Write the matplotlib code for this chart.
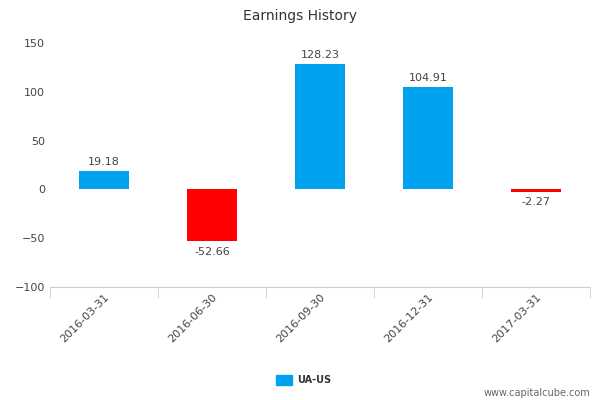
import matplotlib
matplotlib.use("Agg")
import matplotlib.pyplot as plt
from matplotlib.patches import Rectangle

categories = ["2016-03-31", "2016-06-30", "2016-09-30", "2016-12-31", "2017-03-31"]
values = [19.18, -52.66, 128.23, 104.91, -2.27]
labels = ["19.18", "-52.66", "128.23", "104.91", "-2.27"]
series_name = "UA-US"

fig = plt.figure(figsize=(6, 4), dpi=100)
ax = fig.add_axes([50/600, 1-287/400, 540/600, 244/400])
x = list(range(len(categories)))
colors = ["#00a2f0" if v >= 0 else "#ff0000" for v in values]
ax.bar(x, values, width=0.47, color=colors)
for xi, v, l in zip(x, values, labels):
    if v >= 0:
        ax.text(xi, v + 4, l, ha="center", va="bottom", fontsize=8, color="#444444")
    else:
        ax.text(xi, v - 6, l, ha="center", va="top", fontsize=8, color="#444444")
ax.set_xlim(-0.5, 4.5)
ax.set_ylim(-100, 150)
ax.set_yticks([-100, -50, 0, 50, 100, 150])
ax.tick_params(axis="y", length=0, labelsize=8, labelcolor="#444444")
ax.set_xticks(x)
ax.set_xticklabels(categories, rotation=45, ha="right", rotation_mode="anchor", fontsize=8, color="#444444")
ax.tick_params(axis="x", length=0)
ax.set_xticks([i + 0.5 for i in range(-1, 5)], minor=True)
ax.tick_params(axis="x", which="minor", length=8, color="#c0d0e0")
for s in ["top", "right", "left"]:
    ax.spines[s].set_visible(False)
ax.spines["bottom"].set_color("#c0d0e0")
fig.text(0.5, 1-16/400, "Earnings History", ha="center", va="center", fontsize=10, color="#333333")
fig.patches.append(Rectangle((276/600, 1-385/400), 16/600, 10/400, transform=fig.transFigure, color="#00a2f0"))
fig.text(297/600, 1-380/400, series_name, ha="left", va="center", fontsize=7, fontweight="bold", color="#333333")
fig.text(590/600, 1-393/400, "www.capitalcube.com", ha="right", va="center", fontsize=7, color="#666666")
fig.savefig("out.png", dpi=100)
